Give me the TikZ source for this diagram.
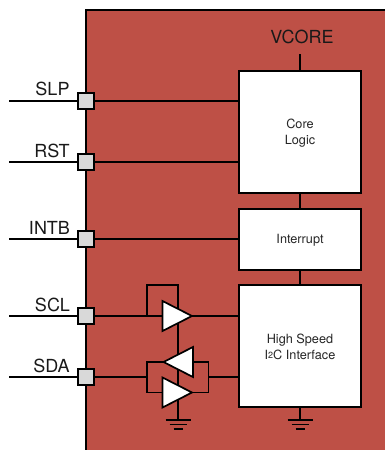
\documentclass[tikz,border=0pt]{standalone}
\usepackage{fontspec}
\setmainfont{TeX Gyre Heros}
\definecolor{chipred}{HTML}{BE5046}
\definecolor{pingrey}{HTML}{D9D9D9}
\tikzset{
  wire/.style={line width=1.5pt,black},
  pinbox/.style={draw=black,line width=1.8pt,fill=pingrey,minimum size=16pt,inner sep=0pt},
  block/.style={draw=black,line width=1.7pt,fill=white,minimum width=122pt,align=center,inner sep=0pt,font=\fontsize{12.7}{16}\selectfont,text=black!85},
  pinlabel/.style={font=\fontsize{18}{20}\selectfont,anchor=base,inner sep=0pt,text=black!90},
  buffer/.style={draw=black,line width=1.7pt,fill=white,line join=miter},
}
\newcommand{\groundsym}[1]{%
  \draw[wire] (#1)++(-12.5,0) -- ++(25,0);
  \draw[wire] (#1)++(-8.5,4.5) -- ++(17,0);
  \draw[wire] (#1)++(-4.5,9) -- ++(9,0);
}
\newcommand{\lowered}[2]{\raisebox{-#1}[\height][\depth]{#2}}
\begin{document}
\begin{tikzpicture}[x=1pt,y=-1pt]
\useasboundingbox (0,0) rectangle (385,450);
% chip body
\fill[chipred] (86,10) rectangle (385,450);
\draw[line width=2.2pt,black] (86,450) -- (86,10) -- (385,10);

% blocks
\node[block,minimum height=122pt] (core) at (300,132) {\lowered{1pt}{\parbox{60pt}{\centering Core\\Logic}}};
\node[block,minimum height=61pt] (intr) at (300,239.5) {\lowered{1pt}{Interrupt}};
\node[block,minimum height=122pt] (hs) at (300,346) {\lowered{1pt}{\parbox{110pt}{\centering High Speed\\I{\fontsize{9}{9}\selectfont\raisebox{1.5pt}{2}}C Interface}}};

% pins
\node[pinbox] (slp) at (86,101) {};
\node[pinbox] (rst) at (86,162) {};
\node[pinbox] (intb) at (86,239) {};
\node[pinbox] (scl) at (86,316) {};
\node[pinbox] (sda) at (86,377) {};

% pin labels
\node[pinlabel] (lslp) at (52.5,95) {SLP};
\node[pinlabel] (lrst) at (52,157) {RST};
\node[pinlabel] (lintb) at (49.5,234) {INTB};
\node[pinlabel] (lscl) at (52.5,311) {SCL};
\node[pinlabel] (lsda) at (51.5,372) {SDA};
\node[pinlabel] (vcore) at (302,43) {VCORE};

% free ends
\coordinate (eslp) at (9,101);
\coordinate (erst) at (9,162);
\coordinate (eintb) at (9,239);
\coordinate (escl) at (9,316);
\coordinate (esda) at (9,377);
\coordinate (vtop) at (300,54);
\coordinate (gndb) at (178,420);
\coordinate (gndh) at (300,420);
\coordinate (loopa) at (147,285);
\coordinate (loopb) at (178,285);
\coordinate (sdal) at (147,377);
\coordinate (sdar) at (208.5,377);

% wires under everything
\foreach \p/\e in {slp/eslp,rst/erst,intb/eintb,scl/escl,sda/esda}
  \draw[wire] (\e) -- (\p.west);
\draw[wire] (slp.east) -- (core.west |- slp);
\draw[wire] (rst.east) -- (core.west |- rst);
\draw[wire] (intb.east) -- (intr.west |- intb);
\draw[wire] (scl.east) -- (hs.west |- scl);
\draw[wire] (sda.east) -- (sdal);
\draw[wire] (sdar) -- (hs.west |- sdar);
\draw[wire] (vtop) -- (core.north -| vtop);
\draw[wire] (core.south) -- (intr.north);
\draw[wire] (intr.south) -- (hs.north);
\draw[wire] (hs.south) -- (gndh);
% feedback loops
\draw[wire] (147,316) -- (loopa) -- (loopb) -- (gndb);
\draw[wire] (163,362) -- (147,362) -- (147,392.5) -- (163,392.5);
\draw[wire] (193,362) -- (208.5,362) -- (208.5,392.5) -- (192,392.5);

% buffers
\draw[buffer] (162.5,301) -- (192,316) -- (162.5,331) -- cycle;
\draw[buffer] (193,347) -- (163.5,362) -- (193,377) -- cycle;
\draw[buffer] (162.5,377.5) -- (192,392.5) -- (162.5,407.5) -- cycle;

% grounds
\groundsym{gndb}
\groundsym{gndh}
\end{tikzpicture}
\end{document}
